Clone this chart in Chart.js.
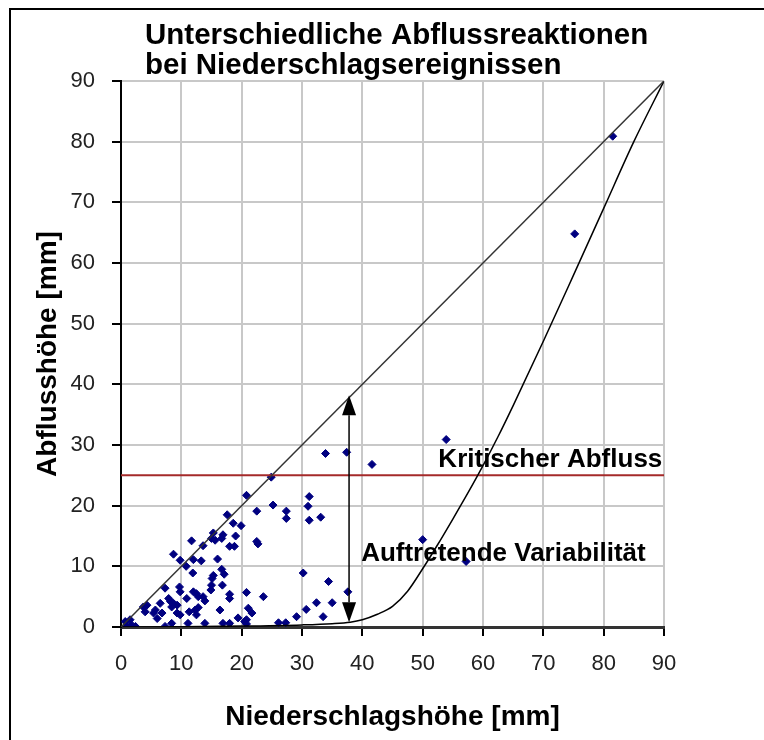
<!DOCTYPE html>
<html>
<head>
<meta charset="utf-8">
<script src="https://cdn.jsdelivr.net/npm/chart.js@4.4.0/dist/chart.umd.min.js"></script>
<style>
  html, body { margin: 0; padding: 0; background: #fff; }
  canvas { display: block; }
</style>
</head>
<body>
<canvas id="abflussChart" width="764" height="740"></canvas>
<script>
// Ereignisse: Niederschlagshöhe (x) und Abflusshöhe (y), jeweils mm
const niederschlag = [
  81.5, 75.2, 53.9, 33.9, 37.4, 41.6, 24.9, 50.0, 57.2,
  20.8, 22.5, 25.2, 27.4, 27.4, 31.2, 31.0, 31.2, 33.1, 22.5, 22.7,
  30.2, 34.4, 37.6, 23.6, 20.8, 21.1, 21.7, 32.4, 35.0, 30.7, 29.1, 33.5, 26.1, 27.3,
  17.6, 18.6, 19.9, 15.3, 15.0, 15.6, 16.7, 16.9, 19.0, 18.0, 18.8, 11.7, 13.6,
  8.7, 9.8, 12.0, 13.3, 10.8, 16.0, 11.9, 16.7, 17.1, 15.3, 15.1, 16.8, 15.0, 14.9,
  18.0, 18.0, 9.7, 7.3, 12.0, 12.5, 12.8, 13.6, 13.9, 10.9, 12.3, 12.5, 11.3, 16.4,
  19.4, 20.8, 3.7, 4.0, 4.3, 5.4, 5.7, 6.0, 6.5, 6.8, 7.9, 8.2, 8.4, 8.7, 9.3, 9.8,
  9.3, 9.8, 0.7, 1.5, 1.8, 2.4, 7.3, 8.4, 11.1, 13.9, 16.9, 18.0, 20.5, 20.8, 12.8, 1.0
];
const abfluss = [
  80.9, 64.8, 30.9, 28.6, 28.8, 26.8, 24.7, 14.4, 10.8,
  21.7, 19.1, 20.1, 19.1, 17.9, 21.5, 19.9, 17.6, 18.1, 14.1, 13.7,
  8.9, 7.5, 5.8, 5.0, 5.7, 3.1, 2.3, 4.0, 4.0, 2.9, 1.7, 1.7, 0.7, 0.7,
  18.5, 17.1, 16.7, 15.5, 14.6, 14.3, 14.6, 15.2, 15.0, 13.3, 13.3, 14.2, 13.4,
  12.0, 11.0, 11.1, 10.9, 10.0, 11.2, 8.9, 9.5, 8.7, 8.5, 8.0, 6.9, 6.9, 6.1,
  5.4, 4.7, 6.6, 6.4, 5.8, 5.5, 5.0, 5.0, 4.3, 4.7, 2.8, 2.0, 2.5, 2.8,
  1.5, 1.2, 3.3, 2.5, 3.6, 2.3, 2.8, 1.4, 3.9, 2.3, 4.7, 4.2, 3.3, 3.9, 3.6, 5.8,
  2.3, 2.0, 0.9, 1.2, 0.3, 0.1, 0.1, 0.6, 0.6, 0.6, 0.6, 0.6, 0.9, 0.5, 3.2, 0.2
];

// 1:1-Linie (Abfluss = Niederschlag)
const linieX = [0, 90];
const linieY = [0, 90];

// untere Hüllkurve
const kurveX = [0, 10, 20, 30, 35, 38, 40, 42.5, 45, 47.5, 50, 52.5, 55, 57.5, 60, 62.5, 65, 70, 75, 80, 85, 90];
const kurveY = [0, 0.05, 0.15, 0.35, 0.55, 0.8, 1.2, 2.1, 3.4, 5.9, 9.6, 13.6, 17.8, 22.1, 26.6, 31.4, 36.5, 47.1, 58.0, 69.0, 80.0, 90];

const kritischerAbfluss = 25;
const achsenTicks = [0, 10, 20, 30, 40, 50, 60, 70, 80, 90];

// Pfeil der Variabilität (in mm)
const pfeilX = 37.8;
const pfeilOben = 38.2;
const pfeilUnten = 0.8;

const titelZeilen = ['Unterschiedliche Abflussreaktionen', 'bei Niederschlagsereignissen'];
const beschriftungen = [
  { text: 'Kritischer Abfluss', x: 52.6, y: 26.4 },
  { text: 'Auftretende Variabilität', x: 39.8, y: 10.8 }
];

const schrift = 'Liberation Sans, Arial, sans-serif';

const extras = {
  id: 'extras',
  beforeDraw(chart) {
    const ctx = chart.ctx;
    ctx.save();
    ctx.fillStyle = '#fff';
    ctx.fillRect(0, 0, chart.width, chart.height);
    // Rahmen
    ctx.strokeStyle = '#000';
    ctx.lineWidth = 2;
    ctx.beginPath();
    ctx.moveTo(10, chart.height);
    ctx.lineTo(10, 9);
    ctx.lineTo(chart.width, 9);
    ctx.stroke();
    ctx.restore();
  },
  afterDatasetsDraw(chart) {
    const ctx = chart.ctx;
    const xs = chart.scales.x, ys = chart.scales.y;
    const px = xs.getPixelForValue(pfeilX);
    const top = ys.getPixelForValue(pfeilOben);
    const bot = ys.getPixelForValue(pfeilUnten);
    const len = 20, half = 7;
    ctx.save();
    ctx.strokeStyle = '#000';
    ctx.fillStyle = '#000';
    ctx.lineWidth = 1.5;
    ctx.beginPath();
    ctx.moveTo(px, top + len);
    ctx.lineTo(px, bot - len);
    ctx.stroke();
    ctx.beginPath();
    ctx.moveTo(px, top);
    ctx.lineTo(px - half, top + len);
    ctx.lineTo(px + half, top + len);
    ctx.closePath();
    ctx.fill();
    ctx.beginPath();
    ctx.moveTo(px, bot);
    ctx.lineTo(px - half, bot - len);
    ctx.lineTo(px + half, bot - len);
    ctx.closePath();
    ctx.fill();

    ctx.font = 'bold 26px ' + schrift;
    ctx.textAlign = 'left';
    ctx.textBaseline = 'alphabetic';
    beschriftungen.forEach(b => {
      ctx.fillText(b.text, xs.getPixelForValue(b.x), ys.getPixelForValue(b.y));
    });
    ctx.restore();
  },
  afterDraw(chart) {
    const ctx = chart.ctx;
    ctx.save();
    ctx.fillStyle = '#000';
    ctx.font = 'bold 29.5px ' + schrift;
    ctx.textAlign = 'left';
    ctx.textBaseline = 'alphabetic';
    titelZeilen.forEach((z, i) => {
      ctx.fillText(z, chart.chartArea.left + 24, 44 + i * 30);
    });
    ctx.restore();
  }
};

function setTicks(scale) {
  scale.ticks = achsenTicks.map(v => ({ value: v }));
}

const ctx = document.getElementById('abflussChart').getContext('2d');
new Chart(ctx, {
  type: 'scatter',
  data: {
    datasets: [
      {
        label: '1:1',
        data: linieX.map((x, i) => ({ x: x, y: linieY[i] })),
        showLine: true,
        borderColor: '#333',
        borderWidth: 1.5,
        pointRadius: 0
      },
      {
        label: 'Hüllkurve',
        data: kurveX.map((x, i) => ({ x: x, y: kurveY[i] })),
        showLine: true,
        cubicInterpolationMode: 'monotone',
        borderColor: '#000',
        borderWidth: 1.5,
        pointRadius: 0
      },
      {
        label: 'Kritischer Abfluss',
        data: [{ x: achsenTicks[0], y: kritischerAbfluss }, { x: achsenTicks[achsenTicks.length - 1], y: kritischerAbfluss }],
        showLine: true,
        borderColor: '#a52a2a',
        borderWidth: 2,
        pointRadius: 0
      },
      {
        label: 'Ereignisse',
        data: niederschlag.map((x, i) => ({ x: x, y: abfluss[i] })),
        pointStyle: 'rectRot',
        pointRadius: 4,
        backgroundColor: '#000080',
        borderColor: '#000080',
        borderWidth: 1
      }
    ]
  },
  options: {
    responsive: false,
    devicePixelRatio: 1,
    animation: false,
    layout: { padding: { top: 81, right: 100, bottom: 0, left: 0 } },
    plugins: {
      legend: { display: false },
      title: { display: false },
      tooltip: { enabled: false }
    },
    scales: {
      x: {
        type: 'linear',
        min: 0,
        max: 90,
        afterBuildTicks: setTicks,
        afterFit(axis) { axis.height = 113; },
        grid: { color: '#c8c8c8', lineWidth: 2, tickColor: '#000', tickLength: 9 },
        border: { color: '#333', width: 3 },
        ticks: { color: '#222', padding: 15, font: { family: schrift, size: 22 } },
        title: {
          display: true,
          text: 'Niederschlagshöhe [mm]',
          color: '#000',
          padding: { top: 0, bottom: 6 },
          font: { family: schrift, size: 28, weight: 'bold' }
        }
      },
      y: {
        type: 'linear',
        min: 0,
        max: 90,
        afterBuildTicks: setTicks,
        afterFit(axis) { axis.width = 121; },
        grid: { color: '#c8c8c8', lineWidth: 2, tickColor: '#000', tickLength: 9 },
        border: { color: '#000', width: 2 },
        ticks: { color: '#222', padding: 17, font: { family: schrift, size: 22 } },
        title: {
          display: true,
          text: 'Abflusshöhe [mm]',
          color: '#000',
          padding: { top: 31, bottom: 0 },
          font: { family: schrift, size: 28, weight: 'bold' }
        }
      }
    }
  },
  plugins: [extras]
});
</script>
</body>
</html>
